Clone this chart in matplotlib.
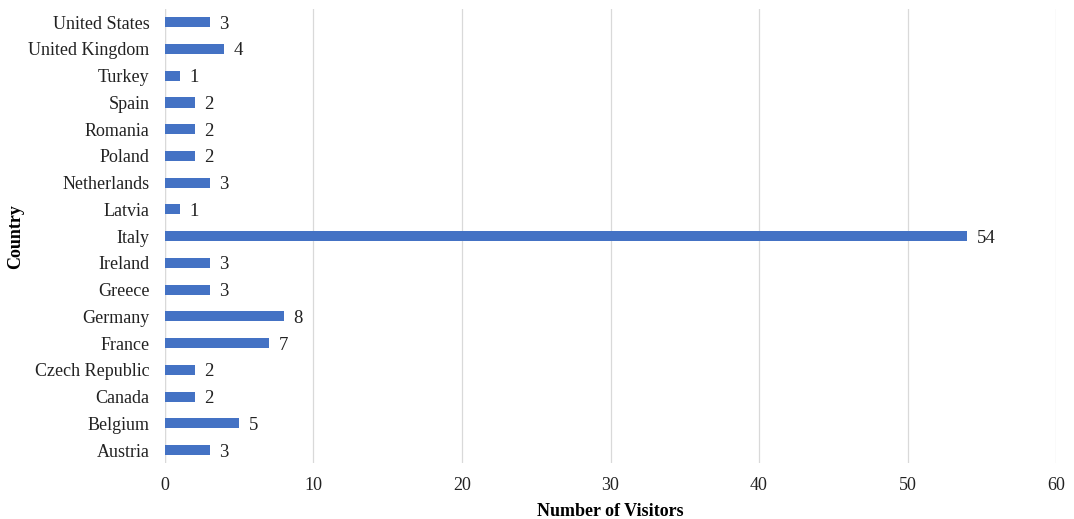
import matplotlib
matplotlib.use('Agg')
import matplotlib.pyplot as plt

# Data (bottom to top)
countries = ['Austria', 'Belgium', 'Canada', 'Czech Republic', 'France', 'Germany',
             'Greece', 'Ireland', 'Italy', 'Latvia', 'Netherlands', 'Poland',
             'Romania', 'Spain', 'Turkey', 'United Kingdom', 'United States']
visitors = [3, 5, 2, 2, 7, 8, 3, 3, 54, 1, 3, 2, 2, 2, 1, 4, 3]
x_ticks = [0, 10, 20, 30, 40, 50, 60]

plt.rcParams['font.family'] = ['Liberation Serif', 'DejaVu Serif']

fig = plt.figure(figsize=(10.74, 5.19), dpi=100)
ax = fig.add_axes([0.1536, 0.107, 0.8297, 0.876])

bars = ax.barh(range(len(countries)), visitors, height=0.38, color='#4472C4', zorder=3)

# Value labels next to each bar
for i, v in enumerate(visitors):
    ax.annotate(str(v), xy=(v, i), xytext=(7, 0), textcoords='offset points',
                va='center_baseline', ha='left', fontsize=13.5, color='#222222')

ax.set_xlim(0, 60)
ax.set_ylim(-0.5, len(countries) - 0.5)
ax.set_xticks(x_ticks)
ax.set_yticks(range(len(countries)))
ax.set_yticklabels(countries)
ax.tick_params(axis='both', length=0, labelsize=13, colors='#222222')
ax.tick_params(axis='x', pad=10)
ax.tick_params(axis='y', pad=11)

# Light vertical gridlines, no frame
ax.grid(axis='x', color='#d9d9d9', linewidth=0.9, zorder=0)
for s in ax.spines.values():
    s.set_visible(False)
ax.axvline(0, color='#d9d9d9', linewidth=0.9, zorder=1)

ax.set_xlabel('Number of Visitors', fontsize=13, fontweight='bold', labelpad=6)
ax.set_ylabel('Country', fontsize=13, fontweight='bold', labelpad=3)

plt.savefig('out.png', dpi=100)
